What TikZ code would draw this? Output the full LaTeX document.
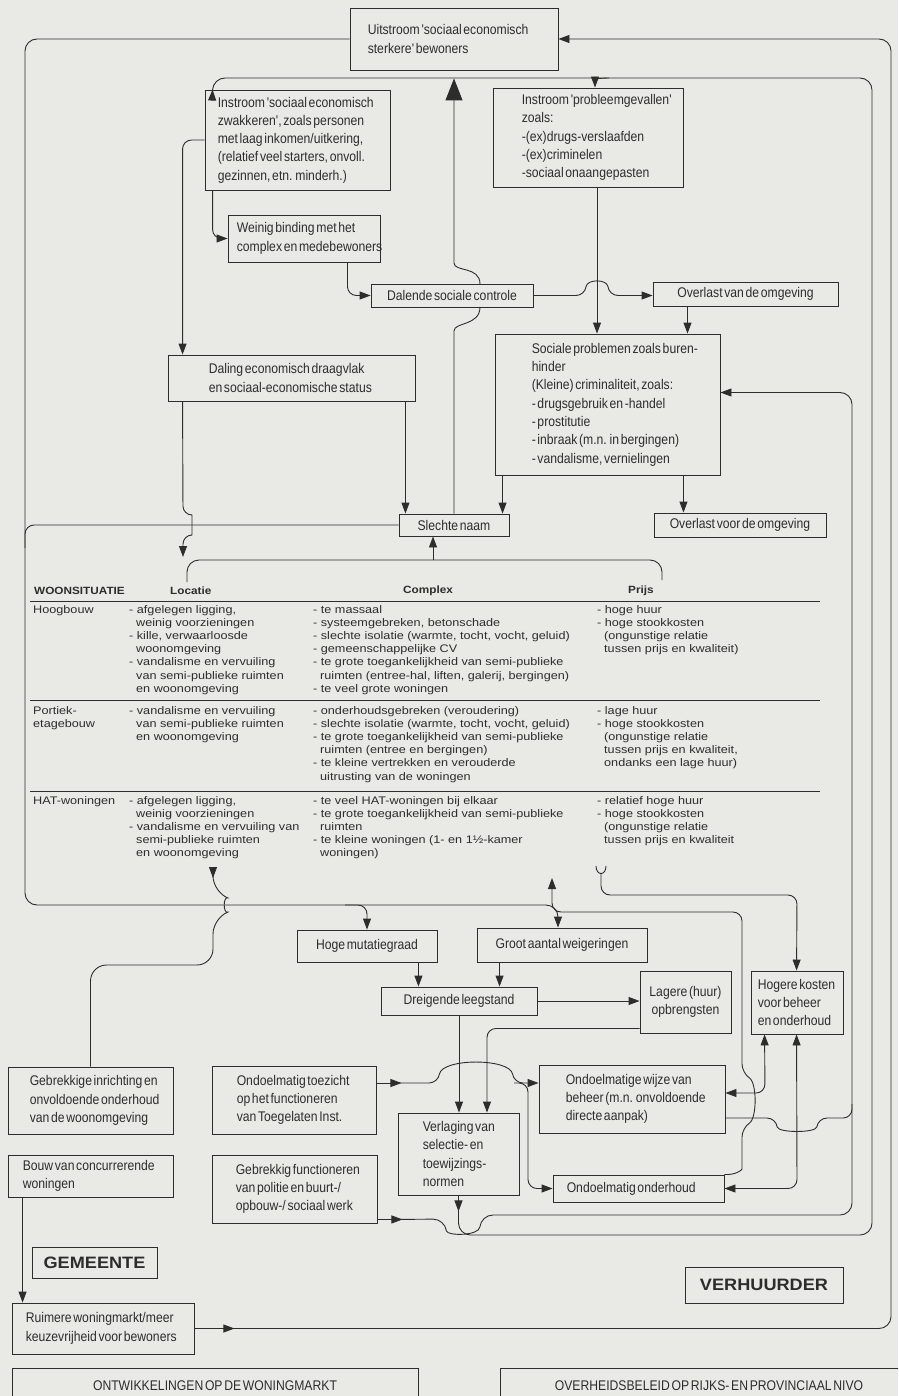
\documentclass[tikz,border=0pt]{standalone}
\usepackage{fontspec}
\setmainfont{Liberation Sans}
\newfontfamily\narf[FakeStretch=0.87,WordSpace=0.5]{Liberation Sans}
\newfontfamily\widf[FakeStretch=1.15]{Liberation Sans}
\newfontfamily\hedf[FakeStretch=1.12]{Liberation Sans}
\newfontfamily\bigf[FakeStretch=1.1]{Liberation Sans}
\usetikzlibrary{arrows.meta}
\definecolor{bgc}{RGB}{233,233,229}
\definecolor{ink}{RGB}{45,45,45}
\newcommand\ind{\hspace*{7pt}}
\newcommand\bx[7]{%
  \pgfmathsetmacro\bw{#4-#2}\pgfmathsetmacro\bh{#5-#3}%
  \node[boxr, minimum width=\bw pt, minimum height=\bh pt] (#1) at ({(#2+#4)/2},{(#3+#5)/2}) {};%
  \node[boxt, anchor=west] (#1-t) at ([xshift=#6pt]#1.west) {#7};}
\newcommand\cbx[6]{%
  \pgfmathsetmacro\bw{#4-#2}\pgfmathsetmacro\bh{#5-#3}%
  \node[boxr, minimum width=\bw pt, minimum height=\bh pt] (#1) at ({(#2+#4)/2},{(#3+#5)/2}) {};%
  \node[boxt, align=center] (#1-t) at (#1.center) {#6};}
\begin{document}
\begin{tikzpicture}[x=1pt,y=-1pt,
  >={Triangle[length=11pt,width=8pt]},
  boxr/.style={draw=ink,line width=0.9pt,inner sep=0pt},
  boxt/.style={font=\narf\fontsize{14}{18.3}\selectfont,text=ink,align=left,inner sep=0pt},
  conn/.style={draw=ink,line width=0.9pt,rounded corners=9pt},
  tcell/.style={font=\widf\fontsize{11}{13.2}\selectfont,text=ink,align=left,inner sep=0pt,anchor=north west},
  thead/.style={font=\hedf\bfseries\fontsize{10.5}{12}\selectfont,text=ink,inner sep=0pt,anchor=west},
  bigt/.style={font=\bigf\bfseries\fontsize{16.5}{18}\selectfont,text=ink,inner sep=0pt},
  rule/.style={draw=ink,line width=0.9pt}]
\useasboundingbox (0,0) rectangle (898,1396);
\clip (0,0) rectangle (898,1396);
\fill[bgc] (0,0) rectangle (898,1396);

% ---------- boxes ----------
\bx{uit}{350}{8}{558}{70}{18}{Uitstroom 'sociaal economisch\\sterkere' bewoners}
\bx{inz}{205}{90}{390}{190}{13}{Instroom 'sociaal economisch\\zwakkeren', zoals personen\\met laag inkomen/uitkering,\\(relatief veel starters, onvoll.\\gezinnen, etn. minderh.)}
\bx{inp}{493}{88}{683}{187}{29}{Instroom 'probleemgevallen'\\zoals:\\-(ex)drugs-verslaafden\\-(ex)criminelen\\-sociaal onaangepasten}
\bx{wein}{228}{215}{380}{262}{9}{Weinig binding met het\\complex en medebewoners}
\cbx{dal}{371}{284}{533}{307}{Dalende sociale controle}
\cbx{ovv}{653}{282}{838}{306}{Overlast van de omgeving}
\bx{daling}{168}{355}{415}{401}{41}{Daling economisch draagvlak\\en sociaal-economische status}
\bx{soc}{495}{334}{720}{475}{37}{Sociale problemen zoals buren-\\hinder\\(Kleine) criminaliteit, zoals:\\- drugsgebruik en -handel\\- prostitutie\\- inbraak (m.n. in bergingen)\\- vandalisme, vernielingen}
\cbx{sl}{399}{514}{509}{536}{Slechte naam}
\cbx{ovr}{654}{513}{826}{537}{Overlast voor de omgeving}
\cbx{hoge}{297}{930}{437}{962}{Hoge mutatiegraad}
\cbx{groot}{477}{928}{647}{962}{Groot aantal weigeringen}
\cbx{dreig}{381}{987}{537}{1015}{Dreigende leegstand}
\cbx{lag}{640}{971}{731}{1033}{Lagere (huur)\\opbrengsten}
\bx{hog}{751}{971}{843}{1034}{7}{Hogere kosten\\voor beheer\\en onderhoud}
\bx{gebi}{8}{1067}{173}{1134}{22}{Gebrekkige inrichting en\\onvoldoende onderhoud\\van de woonomgeving}
\bx{toez}{212}{1066}{376}{1134}{25}{Ondoelmatig toezicht\\op het functioneren\\van Toegelaten Inst.}
\bx{beh}{539}{1065}{725}{1133}{27}{Ondoelmatige wijze van\\beheer (m.n. onvoldoende\\directe aanpak)}
\bx{verl}{398}{1113}{519}{1195}{25}{Verlaging van\\selectie- en\\toewijzings-\\normen}
\bx{ond}{553}{1175}{724}{1202}{14}{Ondoelmatig onderhoud}
\bx{bouw}{8}{1155}{173}{1197}{15}{Bouw van concurrerende\\woningen}
\bx{gebf}{212}{1155}{377}{1223}{24}{Gebrekkig functioneren\\van politie en buurt-/\\opbouw-/ sociaal werk}
\bx{ruim}{12}{1303}{194}{1354}{14}{Ruimere woningmarkt/meer\\keuzevrijheid voor bewoners}

\node[boxr, minimum width=125pt, minimum height=31pt] (gem) at (94.5,1262.5) {};
\node[bigt] (gem-t) at (gem.center) {GEMEENTE};
\node[boxr, minimum width=158pt, minimum height=36pt] (verh) at (764,1285) {};
\node[bigt] (verh-t) at (verh.center) {VERHUURDER};
\node[boxr, minimum width=406pt, minimum height=52pt] (ontw) at (215,1394) {};
\node[boxt, align=center] (ontw-t) at (215,1386) {ONTWIKKELINGEN OP DE WONINGMARKT};
\node[boxr, minimum width=420pt, minimum height=52pt] (over) at (710,1394) {};
\node[boxt, align=center] (over-t) at (709,1386) {OVERHEIDSBELEID OP RIJKS- EN PROVINCIAAL NIVO};

% ---------- table ----------
\node[thead] (h-ws) at (34,591) {WOONSITUATIE};
\node[thead] (h-loc) at (170,591) {Locatie};
\node[thead] (h-cpx) at (403,591) {Complex};
\node[thead] (h-prs) at (628,591) {Prijs};
\draw[rule] (30,601) -- (820,601);
\draw[rule] (30,700) -- (820,700);
\draw[rule] (30,791) -- (820,791);

\node[tcell] (r1-lab) at (33,605) {Hoogbouw};
\node[tcell] (r1-loc) at (129,605) {- afgelegen ligging,\\\ind weinig voorzieningen\\- kille, verwaarloosde\\\ind woonomgeving\\- vandalisme en vervuiling\\\ind van semi-publieke ruimten\\\ind en woonomgeving};
\node[tcell] (r1-cpx) at (313,605) {- te massaal\\- systeemgebreken, betonschade\\- slechte isolatie (warmte, tocht, vocht, geluid)\\- gemeenschappelijke CV\\- te grote toegankelijkheid van semi-publieke\\\ind ruimten (entree-hal, liften, galerij, bergingen)\\- te veel grote woningen};
\node[tcell] (r1-prs) at (597,605) {- hoge huur\\- hoge stookkosten\\\ind (ongunstige relatie\\\ind tussen prijs en kwaliteit)};

\node[tcell] (r2-lab) at (33,706) {Portiek-\\etagebouw};
\node[tcell] (r2-loc) at (129,706) {- vandalisme en vervuiling\\\ind van semi-publieke ruimten\\\ind en woonomgeving};
\node[tcell] (r2-cpx) at (313,706) {- onderhoudsgebreken (veroudering)\\- slechte isolatie (warmte, tocht, vocht, geluid)\\- te grote toegankelijkheid van semi-publieke\\\ind ruimten (entree en bergingen)\\- te kleine vertrekken en verouderde\\\ind uitrusting van de woningen};
\node[tcell] (r2-prs) at (597,706) {- lage huur\\- hoge stookkosten\\\ind (ongunstige relatie\\\ind tussen prijs en kwaliteit,\\\ind ondanks een lage huur)};

\node[tcell] (r3-lab) at (33,796) {HAT-woningen};
\node[tcell] (r3-loc) at (129,796) {- afgelegen ligging,\\\ind weinig voorzieningen\\- vandalisme en vervuiling van\\\ind semi-publieke ruimten\\\ind en woonomgeving};
\node[tcell] (r3-cpx) at (313,796) {- te veel HAT-woningen bij elkaar\\- te grote toegankelijkheid van semi-publieke\\\ind ruimten\\- te kleine woningen (1- en 1½-kamer\\\ind woningen)};
\node[tcell] (r3-prs) at (597,796) {- relatief hoge huur\\- hoge stookkosten\\\ind (ongunstige relatie\\\ind tussen prijs en kwaliteit};

% ---------- helper coordinates ----------
\coordinate (loca) at (183,557);
\coordinate (loch) at (213,878);
\coordinate (cplx) at (552,878);
\coordinate (t1) at (433,560);
\coordinate (h1) at ([xshift=-19pt]hoge.south east);
\coordinate (g1) at ([xshift=23pt]groot.south west);
\coordinate (d1) at ([xshift=-10pt]daling.south east);
\coordinate (p1) at ([xshift=9pt]inp.south);
\coordinate (o1) at ([xshift=-58pt]ovv.south);
\coordinate (s1) at ([xshift=8pt]soc.south west);
\coordinate (s2) at ([xshift=-37pt]soc.south east);
\coordinate (b1) at ([xshift=15pt]bouw.south west);

% ---------- connectors ----------
% Ruimere woningmarkt -> Uitstroom (outer loop)
\draw[conn,->] (ruim.east) -- ++(40,0);
\draw[conn,->,rounded corners=12pt] ([xshift=34pt]ruim.east) -- (891,1328.5) -- (891,39) -- (uit.east);
% Uitstroom -> left loop -> Hoge mutatiegraad / Groot aantal weigeringen
\draw[conn,->,rounded corners=12pt] (uit.west) -- (25,39) -- (25,905) -- (558,905) -- ([xshift=-4pt]groot.north);
\draw[conn,->] (345,905) -| (hoge.north);
\draw[conn] (sl.west) -- (25,525) -- (25,548);
% Slechte naam -> Uitstroom
\draw[conn] (sl.north) -- (454,340) .. controls (454,322) and (480,326) .. (480,307);
\draw[conn,-{Triangle[length=22pt,width=17pt]}] (480,284) .. controls (480,266) and (454,272) .. (454,254) -- ([yshift=-8pt]uit.south);
% Verlaging -> Instroom (middle loop)
\draw[conn,->] (verl.south) -- ++(0,16);
\draw[conn,->,rounded corners=12pt] ([yshift=-11pt]verl.south) -- (458.5,1235) -- (872,1235) -- (872,78) -- (213,78) -- ([xshift=8pt]inz.north west);
\draw[conn,->] (609,78) .. controls (598,78) and (595,80) .. ([xshift=7pt]inp.north);
% Gebrekkig functioneren -> Sociale problemen (inner loop)
\draw[conn,->] ([yshift=4pt]gebf.south east) -- ++(25,0);
\draw[conn,->,rounded corners=12pt] ([xshift=20pt,yshift=4pt]gebf.south east) -- (445,1219) .. controls (447,1236) and (479,1236) .. (481,1215) -- (852,1215) -- (852,392.5) -- ([yshift=12pt]soc.east);
% Ondoelmatige wijze van beheer -> inner loop
\draw[conn] ([yshift=-19pt]beh.east) -- (776,1118) .. controls (778,1133) and (816,1133) .. (818,1118) -- (852,1118) -- (852,1104);
% beheer / onderhoud <-> Hogere kosten
\draw[conn,<->] ([yshift=6pt]beh.east) -- (765,1093) -- ([xshift=14pt]hog.south west);
\draw[conn,<->] (ond.east) -- (797,1188.5) -- ([xshift=46pt]hog.south west);
% Ondoelmatig onderhoud -> Complex
\draw[conn,->] (ond.north east) .. controls (736,1175) and (742,1170) .. (742,1160) -- (742,1128) .. controls (757,1118) and (757,1083) .. (742,1073) -- (742,912) -- (552,912) -- (cplx);
% Prijs -> Hogere kosten
\draw[conn] (596,866) .. controls (596,876) and (606,876) .. (606,866);
\draw[conn,->] (601,873.5) -- (601,895) -- (797,895) -- ([xshift=46pt]hog.north west);
% Gebrekkige inrichting -> Locatie
\draw[conn,->,rounded corners=16pt] (gebi.north) -- (90.5,965) -- (213,965) -- (213,918) .. controls (223,914) and (223,896) .. (213,892) -- (loch);
% Ondoelmatig toezicht -> beheer / onderhoud
\draw[conn,->] ([yshift=17pt]toez.east) -- ++(25,0);
\draw[conn,->] ([xshift=20pt,yshift=17pt]toez.east) -- (438,1083) .. controls (442,1058) and (510,1058) .. (514,1083) -- ([yshift=16pt]beh.west);
\draw[conn,->] (514,1083) -- (528,1083) -- (528,1188.5) -- (ond.west);
% Dreigende leegstand etc.
\draw[conn,->] (dreig.east) -- (dreig.east -| lag.west);
\draw[conn,->] (dreig.south) -- (dreig.south |- verl.north);
\draw[conn,->] ([yshift=5pt]lag.south west) -| ([xshift=28.5pt]verl.north);
\draw[conn,->] (h1) -- (h1 |- dreig.north);
\draw[conn,->] (g1) -- (g1 |- dreig.north);
% Daling
\draw[conn,->] (d1) -- (d1 |- sl.north);
\draw[conn,->] ([xshift=15pt]daling.south west) -- (183,515) .. controls (192,515) and (192,535) .. (183,535) -- (loca);
% table -> Slechte naam
\draw[conn,rounded corners=12pt] (187,582) -- (187,560) -- (662,560) -- (662,580);
\draw[conn,->] (t1) -- (t1 |- sl.south);
% upper part
\draw[conn,->] (inz.west) -| ([xshift=15pt]daling.north west);
\draw[conn,->] ([xshift=8pt]inz.south west) |- (wein.west);
\draw[conn,->] ([xshift=-33pt]wein.south east) |- (dal.west);
\draw[conn,->] (dal.east) -- (585,295.5) .. controls (587,279) and (607,279) .. (609,295.5) -- (dal.east -| ovv.west);
\draw[conn,->] (p1) -- (p1 |- soc.north);
\draw[conn,->] (o1) -- (o1 |- soc.north);
\draw[conn,->] (s1) -- (s1 |- sl.north);
\draw[conn,->] (s2) -- (s2 |- ovr.north);
\draw[conn,->] (b1) -- (b1 |- ruim.north);
\end{tikzpicture}
\end{document}
